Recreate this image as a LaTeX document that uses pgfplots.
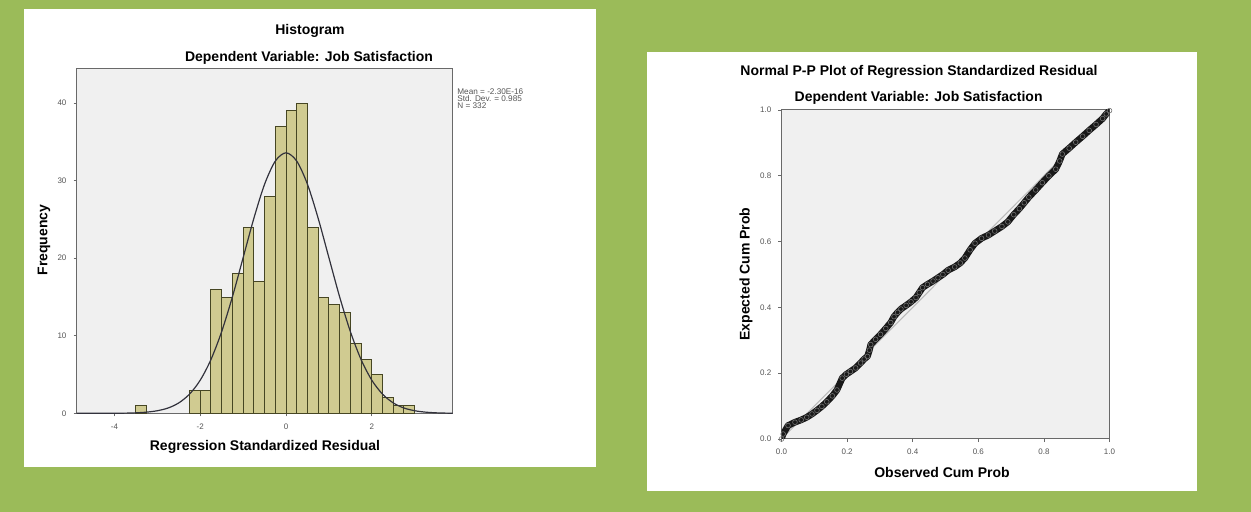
\documentclass[border=0pt]{standalone}
\usepackage{fontspec}
\setmainfont{Liberation Sans}
\usepackage{pgfplots}
\pgfplotsset{compat=1.18}

\definecolor{bggreen}{RGB}{155,187,89}
\definecolor{plotbg}{RGB}{240,240,240}
\definecolor{framegray}{RGB}{105,105,105}
\definecolor{barfill}{RGB}{208,203,145}
\definecolor{baredge}{RGB}{70,70,35}
\definecolor{curvecol}{RGB}{50,50,60}
\definecolor{ticklab}{RGB}{85,85,85}

\newcommand{\ttl}{\bfseries\fontsize{7}{8}\selectfont}

\pgfplotsset{
  spss/.style={
    scale only axis,
    anchor=south west,
    axis background/.style={fill=plotbg},
    axis line style={draw=framegray, line width=0.5pt},
    tick align=outside,
    tick pos=left,
    major tick length=1.6pt,
    tick style={draw=framegray, line width=0.4pt},
    tick label style={font=\fontsize{4}{4.5}\selectfont, text=ticklab},
    /pgf/number format/assume math mode=true,
    clip marker paths=false,
  }
}

\begin{document}
\begin{tikzpicture}
% background and the two white panels
\fill[bggreen] (0,0) rectangle (625.5pt,256pt);
\fill[white] (12pt,22.5pt) rectangle (298pt,251.5pt);
\fill[white] (323.5pt,10.5pt) rectangle (598.5pt,230pt);

% ---------- histogram ----------
\begin{axis}[
  spss,
  at={(38.35pt,49.35pt)},
  width=188pt, height=172.5pt,
  xmin=-4.88, xmax=3.886,
  ymin=0, ymax=44.5,
  xtick={-4,-2,0,2},
  ytick={0,10,20,30,40},
]
  % isolated bin
  \addplot[ybar interval, fill=barfill, draw=baredge, line width=0.5pt]
    coordinates {(-3.5,1)(-3.25,1)};
  % main bins, width 0.25
  \addplot[ybar interval, fill=barfill, draw=baredge, line width=0.5pt]
    coordinates {
      (-2.25,3)(-2.0,3)(-1.75,16)(-1.5,15)(-1.25,18)(-1.0,24)(-0.75,17)
      (-0.5,28)(-0.25,37)(0.0,39)(0.25,40)(0.5,24)(0.75,15)(1.0,14)
      (1.25,13)(1.5,9)(1.75,7)(2.0,5)(2.25,2)(2.5,1)(2.75,1)(3.0,0)
    };
  % normal curve
  \addplot[smooth, curvecol, line width=0.6pt] coordinates {
    (-4.88,0.0)(-4.5,0.001)(-4.0,0.01)(-3.75,0.02)(-3.5,0.06)(-3.25,0.15)
    (-3.0,0.33)(-2.75,0.68)(-2.5,1.34)(-2.25,2.47)(-2.0,4.27)(-1.75,6.93)
    (-1.5,10.54)(-1.25,15.02)(-1.0,20.07)(-0.75,25.14)(-0.5,29.54)
    (-0.25,32.53)(0,33.6)(0.25,32.53)(0.5,29.54)(0.75,25.14)(1.0,20.07)
    (1.25,15.02)(1.5,10.54)(1.75,6.93)(2.0,4.27)(2.25,2.47)(2.5,1.34)
    (2.75,0.68)(3.0,0.33)(3.25,0.15)(3.5,0.06)(3.75,0.02)(3.886,0.01)
  };
\end{axis}

\node[font=\ttl] at (155pt,240.5pt) {Histogram};
\node[font=\ttl] at (154.5pt,227.2pt) {Dependent Variable: Job Satisfaction};
\node[font=\ttl, rotate=90] at (22pt,136pt) {Frequency};
\node[font=\ttl] at (132.5pt,32.7pt) {Regression Standardized Residual};
\node[anchor=north west, inner sep=0pt, align=left, text=ticklab,
      font=\fontsize{4.1}{3.6}\selectfont] at (228.5pt,212pt)
  {Mean = -2.30E-16\\Std. Dev. = 0.985\\N = 332};

% ---------- normal P-P plot ----------
\begin{axis}[
  spss,
  at={(390.75pt,36.5pt)},
  width=164pt, height=164.5pt,
  xmin=0, xmax=1, ymin=0, ymax=1,
  xtick={0,0.2,0.4,0.6,0.8,1},
  ytick={0,0.2,0.4,0.6,0.8,1},
  xticklabel style={/pgf/number format/.cd, fixed, fixed zerofill, precision=1},
  yticklabel style={/pgf/number format/.cd, fixed, fixed zerofill, precision=1},
]
  \addplot[gray!55, line width=0.5pt] coordinates {(0,0)(1,1)};
  \addplot[black!90, line width=3.3pt, line join=round, line cap=round,
           mark=o, mark size=1.2pt,
           mark options={draw=black!55, line width=0.3pt, solid}] coordinates {
    (0.000,0.000)(0.005,0.015)(0.020,0.041)(0.041,0.051)(0.060,0.058)
    (0.077,0.066)(0.093,0.076)(0.108,0.087)(0.123,0.099)(0.138,0.113)
    (0.155,0.131)(0.169,0.149)(0.185,0.185)(0.198,0.197)(0.210,0.205)
    (0.226,0.216)(0.241,0.231)(0.252,0.243)(0.262,0.251)(0.268,0.270)
    (0.272,0.287)(0.287,0.303)(0.302,0.318)(0.318,0.336)(0.333,0.354)
    (0.343,0.372)(0.354,0.385)(0.364,0.395)(0.380,0.406)(0.395,0.417)
    (0.410,0.430)(0.420,0.445)(0.430,0.460)(0.445,0.470)(0.462,0.480)
    (0.477,0.490)(0.492,0.500)(0.508,0.513)(0.528,0.523)(0.545,0.535)
    (0.559,0.550)(0.575,0.575)(0.590,0.595)(0.610,0.610)(0.631,0.620)
    (0.650,0.632)(0.672,0.646)(0.690,0.660)(0.708,0.682)(0.725,0.700)
    (0.740,0.718)(0.754,0.735)(0.775,0.757)(0.795,0.779)(0.815,0.800)
    (0.836,0.820)(0.848,0.845)(0.856,0.866)(0.877,0.884)(0.897,0.902)
    (0.918,0.920)(0.938,0.938)(0.959,0.956)(0.979,0.974)(0.990,0.988)
    (1.000,0.998)
  };
\end{axis}

\node[font=\ttl] at (459.5pt,220pt) {Normal P-P Plot of Regression Standardized Residual};
\node[font=\ttl] at (459.3pt,207pt) {Dependent Variable: Job Satisfaction};
\node[font=\ttl, rotate=90] at (373pt,119pt) {Expected Cum Prob};
\node[font=\ttl] at (471pt,19.7pt) {Observed Cum Prob};
\end{tikzpicture}
\end{document}
